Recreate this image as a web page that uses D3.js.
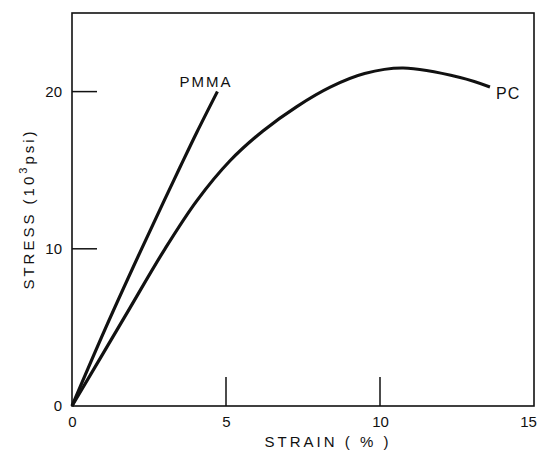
<!DOCTYPE html>
<html>
<head>
<meta charset="utf-8">
<script src="https://cdn.jsdelivr.net/npm/d3@7"></script>
<style>
  body { margin: 0; background: #fff; }
  text { font-family: "Liberation Sans", Arial, sans-serif; fill: #111; }
</style>
</head>
<body>
<div id="chart"></div>
<script>
// strain (%) vs stress (10^3 psi)
var pmmaStrain = [0, 1.1, 2.26, 3.0, 3.51, 4.05, 4.72]
var pmmaStress = [0, 5, 10, 13.1, 15.2, 17.4, 20]
var pcStrain = [0, 1.72, 3.02, 4.05, 5.13, 6.2, 7.3, 8.4, 9.5, 10.75, 12.6, 13.57]
var pcStress = [0, 5.7, 10, 13.05, 15.6, 17.5, 19.05, 20.3, 21.15, 21.5, 20.9, 20.3]
var xTicks = [0, 5, 10, 15]
var yTicks = [0, 10, 20]

var width = 537
var height = 458
var margin = {left: 72, right: 3, top: 13, bottom: 52}

var svg = d3.select("#chart")
  .append("svg")
    .attr("width", width)
    .attr("height", height)

var x = d3.scaleLinear().domain([0, 15]).range([margin.left, width - margin.right])
var y = d3.scaleLinear().domain([0, 25]).range([height - margin.bottom, margin.top])

// frame
svg.append("rect")
  .attr("x", x(0)).attr("y", y(25))
  .attr("width", x(15) - x(0)).attr("height", y(0) - y(25))
  .attr("fill", "none").attr("stroke", "#111").attr("stroke-width", 1.6)

// x ticks point inward (up), labels below
var xAxis = svg.append("g")
  .attr("transform", "translate(0," + y(0) + ")")
  .call(d3.axisBottom(x).tickValues(xTicks).tickSize(0).tickPadding(10))
  .call(function(g) { g.select(".domain").remove() })
xAxis.selectAll("text").style("font-size", "15px").attr("font-family", null)
// last label sits flush with the right edge
xAxis.selectAll("text").filter(function(d) { return d === 15 }).attr("dx", -6)

svg.selectAll(".xtick")
  .data(xTicks.slice(1, 3))
  .enter().append("line")
    .attr("x1", function(d) { return x(d) }).attr("x2", function(d) { return x(d) })
    .attr("y1", y(0)).attr("y2", y(0) - 29)
    .attr("stroke", "#111").attr("stroke-width", 1.5)

// y ticks point inward (right), labels left
svg.append("g")
  .attr("transform", "translate(" + x(0) + ",0)")
  .call(d3.axisLeft(y).tickValues(yTicks).tickSize(0).tickPadding(10))
  .call(function(g) { g.select(".domain").remove() })
  .selectAll("text").style("font-size", "15px").attr("font-family", null)

svg.selectAll(".ytick")
  .data(yTicks.slice(1))
  .enter().append("line")
    .attr("x1", x(0)).attr("x2", x(0) + 25)
    .attr("y1", function(d) { return y(d) }).attr("y2", function(d) { return y(d) })
    .attr("stroke", "#111").attr("stroke-width", 1.5)

var line = d3.line()
  .x(function(d) { return x(d[0]) })
  .y(function(d) { return y(d[1]) })
  .curve(d3.curveCatmullRom.alpha(0.5))

var curves = [
  {name: "PMMA", pts: d3.zip(pmmaStrain, pmmaStress)},
  {name: "PC", pts: d3.zip(pcStrain, pcStress)}
]

svg.selectAll(".curve")
  .data(curves)
  .enter().append("path")
    .attr("d", function(d) { return line(d.pts) })
    .attr("fill", "none")
    .attr("stroke", "#111")
    .attr("stroke-width", 3.2)

// curve labels
svg.append("text")
  .attr("x", 206).attr("y", 87)
  .attr("text-anchor", "middle")
  .style("font-size", "15px").style("letter-spacing", "2px")
  .text("PMMA")
svg.append("text")
  .attr("x", x(13.57) + 6).attr("y", y(20.3) + 12)
  .style("font-size", "16px").style("letter-spacing", "1px")
  .text("PC")

// axis titles
svg.append("text")
  .attr("x", 328).attr("y", 447)
  .attr("text-anchor", "middle")
  .style("font-size", "15px").style("letter-spacing", "3px")
  .text("STRAIN ( % )")

var yt = svg.append("text")
  .attr("transform", "translate(34,209) rotate(-90)")
  .attr("text-anchor", "middle")
  .style("font-size", "15px").style("letter-spacing", "3px")
yt.append("tspan").text("STRESS (10")
yt.append("tspan").attr("dy", -7).style("font-size", "11px").text("3")
yt.append("tspan").attr("dy", 7).text("psi)")
</script>
</body>
</html>
